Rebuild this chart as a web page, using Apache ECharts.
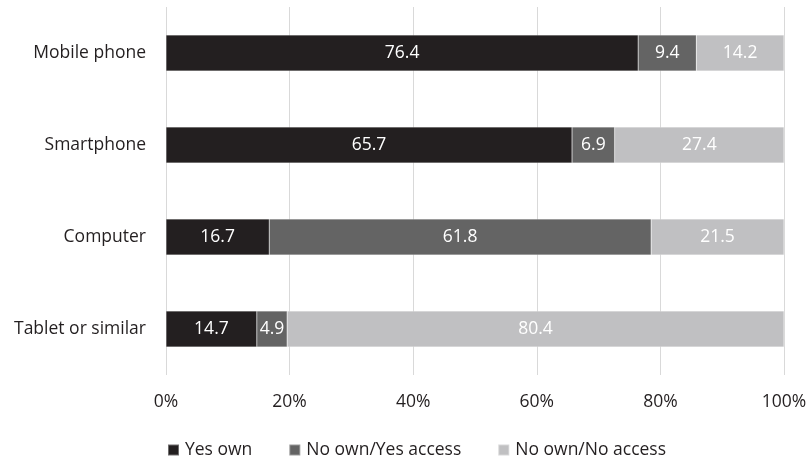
<!DOCTYPE html>
<html><head><meta charset="utf-8">
<script src="https://cdn.jsdelivr.net/npm/echarts@6/dist/echarts.min.js"></script>
<style>html,body{margin:0;padding:0;background:#fff}#c{width:810px;height:461px}</style>
</head><body><div id="c"></div>
<script>
const categories = ["Mobile phone", "Smartphone", "Computer", "Tablet or similar"];
const seriesNames = ["Yes own", "No own/Yes access", "No own/No access"];
const yesOwn = [76.4, 65.7, 16.7, 14.7];
const noOwnYesAccess = [9.4, 6.9, 61.8, 4.9];
const noOwnNoAccess = [14.2, 27.4, 21.5, 80.4];
const xTicks = [0, 20, 40, 60, 80, 100];

const colors = ["#231f20", "#646464", "#c0c0c2"];
const font = "'Open Sans', sans-serif";
const chart = echarts.init(document.getElementById('c'), null, {renderer: 'canvas'});
function mk(name, data, i) {
  return {
    name: name, type: 'bar', stack: 'all', data: data,
    barWidth: 36,
    itemStyle: {color: colors[i], borderColor: 'rgba(255,255,255,0.35)', borderWidth: 0.5},
    label: {show: true, position: 'inside', color: '#fff', fontFamily: font, fontSize: 17.5,
      formatter: p => p.value.toFixed(1)},
    emphasis: {disabled: true}
  };
}
chart.setOption({
  animation: false,
  color: colors,
  grid: {left: 166, right: 26, top: 7, bottom: 86, containLabel: false},
  xAxis: {
    type: 'value', min: 0, max: 100, interval: 20,
    axisLine: {show: false}, axisTick: {show: false},
    splitLine: {show: true, lineStyle: {color: '#d9d9d9', width: 1}},
    axisLabel: {formatter: v => xTicks.includes(v) ? v + '%' : '', color: '#231f20', fontFamily: font, fontSize: 17.5, margin: 18}
  },
  yAxis: {
    type: 'category', data: categories, inverse: true,
    axisLine: {show: false}, axisTick: {show: false},
    axisLabel: {color: '#231f20', fontFamily: font, fontSize: 17.5, margin: 20}
  },
  legend: {
    data: seriesNames, top: 436, left: 162, itemWidth: 11, itemHeight: 11, itemGap: 36,
    icon: 'rect',
    textStyle: {color: '#231f20', fontFamily: font, fontSize: 17.5, padding: [0, 0, 0, 1]}
  },
  series: [mk(seriesNames[0], yesOwn, 0), mk(seriesNames[1], noOwnYesAccess, 1), mk(seriesNames[2], noOwnNoAccess, 2)]
});
</script></body></html>
